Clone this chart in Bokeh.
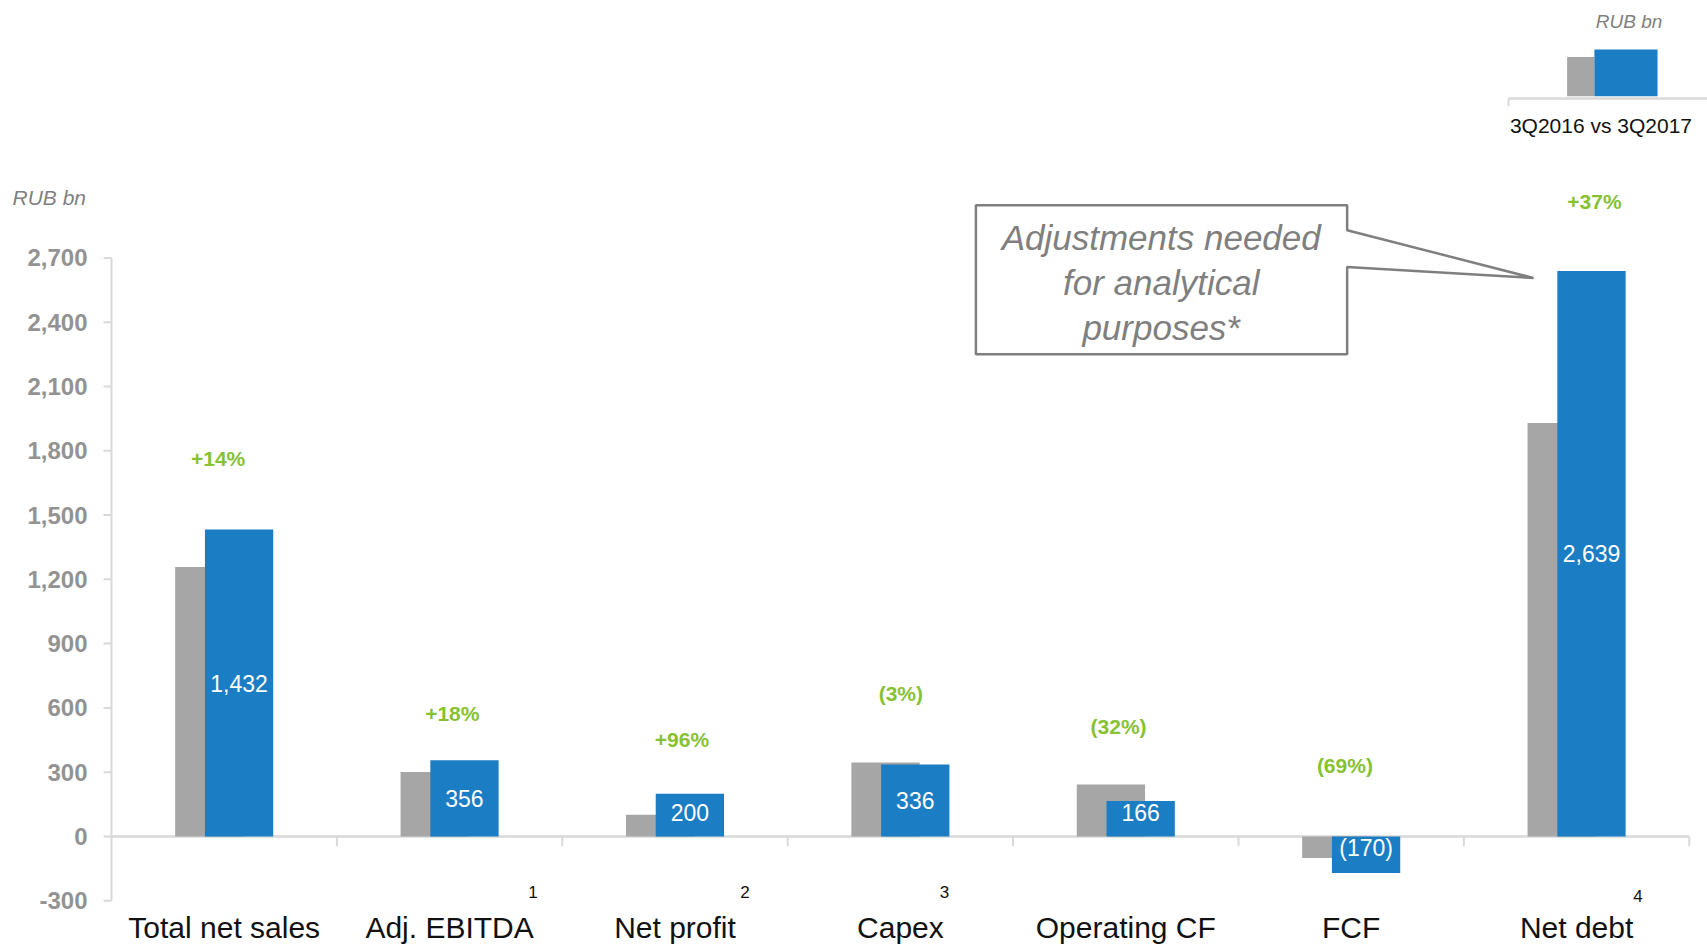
from bokeh.plotting import figure
from bokeh.models import ColumnDataSource
from bokeh.embed import file_html
from bokeh.resources import INLINE
from bokeh.core.properties import value

# ---------------- data ----------------
categories = ["Total net sales", "Adj. EBITDA", "Net profit", "Capex",
              "Operating CF", "FCF", "Net debt"]
footnotes = ["", "1", "2", "3", "", "", "4"]
values_3q2016 = [1258, 301, 101, 345, 243, -100, 1930]
values_3q2017 = [1432, 356, 200, 336, 166, -170, 2639]
changes = ["+14%", "+18%", "+96%", "(3%)", "(32%)", "(69%)", "+37%"]
y_ticks = [-300, 0, 300, 600, 900, 1200, 1500, 1800, 2100, 2400, 2700]
legend_text = "3Q2016 vs 3Q2017"
unit_text = "RUB bn"
callout_lines = ["Adjustments needed", "for analytical", "purposes*"]

# ---------------- styling / layout ----------------
GRAY = "#a6a6a6"
BLUE = "#1b7dc4"
GREEN = "#86c232"
AXIS = "#d9d9d9"
TXT_GRAY = "#7f7f7f"
TICK_GRAY = "#939393"
F = value("Liberation Sans")

W, H = 1707, 944
PX_X = 225.4          # pixels per category
LEFT_PX = 111         # pixel position of the value axis
n = len(categories)
centers = [i + 0.5 for i in range(n)]
bar_w = 0.303
off = 0.066

# per-category label placement (layout, not data)
pct_dx = [-0.027, 0.012, 0.031, 0.002, -0.032, -0.028, 0.079]
pct_y = [1762, 573, 452, 665, 512, 330, 2961]
val_y = [716, 177, 111, 167, 111, -56, 1320]
foot_dx = [0, 0.37, 0.31, 0.195, 0, 0, 0.272]
foot_y = [-259, -259, -259, -259, -259, -259, -280]


def fmt(v):
    return f"{v:,}" if v >= 0 else f"({-v:,})"


x0 = -LEFT_PX / PX_X
p = figure(width=W, height=H, x_range=(x0, x0 + W / PX_X), y_range=(-504, 3901),
           output_backend="svg", toolbar_location=None,
           x_axis_location=None, y_axis_location=None,
           min_border_left=0, min_border_right=0, min_border_top=0,
           min_border_bottom=0)
p.xgrid.visible = False
p.ygrid.visible = False
p.outline_line_color = None
p.background_fill_color = "white"
p.border_fill_color = "white"

# value axis (drawn through the data scales)
lo, hi = y_ticks[0], y_ticks[-1]
p.segment(x0=[0], y0=[lo], x1=[0], y1=[hi], line_color=AXIS, line_width=2)
p.segment(x0=[-8 / PX_X] * len(y_ticks), y0=y_ticks, x1=[0] * len(y_ticks),
          y1=y_ticks, line_color=AXIS, line_width=2)
p.text(x=[-24 / PX_X] * len(y_ticks), y=y_ticks, text=[f"{t:,}" for t in y_ticks],
       text_align="right", text_baseline="middle", text_color=TICK_GRAY,
       text_font=F, text_font_size="24px", text_font_style="bold")
p.text(x=[x0 + 12 / PX_X], y=[2982], text=[unit_text], text_align="left",
       text_baseline="middle", text_color=TXT_GRAY, text_font=F,
       text_font_size="21px", text_font_style="italic")

# zero line with category separators
p.segment(x0=[0], y0=[0], x1=[n], y1=[0], line_color=AXIS, line_width=2.5)
p.segment(x0=list(range(1, n + 1)), y0=[0] * n, x1=list(range(1, n + 1)),
          y1=[-45] * n, line_color=AXIS, line_width=2)

src = ColumnDataSource(dict(
    xg=[c - off for c in centers], xb=[c + off for c in centers],
    prev=values_3q2016, cur=values_3q2017,
))
p.vbar(x="xg", top="prev", bottom=0, width=bar_w, source=src,
       fill_color=GRAY, line_color=None)
p.vbar(x="xb", top="cur", bottom=0, width=bar_w, source=src,
       fill_color=BLUE, line_color=None)

# value labels in blue bars
p.text(x=[c + off for c in centers], y=val_y, text=[fmt(v) for v in values_3q2017],
       text_align="center", text_baseline="middle", text_color="white",
       text_font=F, text_font_size="23px")

# change labels
p.text(x=[c + d for c, d in zip(centers, pct_dx)], y=pct_y, text=changes,
       text_align="center", text_baseline="middle", text_color=GREEN,
       text_font=F, text_font_size="21px", text_font_style="bold")

# category labels
p.text(x=centers, y=[-427] * n, text=categories, text_align="center",
       text_baseline="middle", text_color="#111111", text_font=F,
       text_font_size="30px")

# footnote markers
fx = [c + d for c, d, f in zip(centers, foot_dx, footnotes) if f]
fy = [y for y, f in zip(foot_y, footnotes) if f]
ft = [f for f in footnotes if f]
p.text(x=fx, y=fy, text=ft, text_align="center", text_baseline="middle",
       text_color="#111111", text_font=F, text_font_size="17px")

# callout
cx = [3.835, 5.482, 5.482, 6.309, 5.482, 5.482, 3.835]
cy = [2946, 2946, 2829, 2606, 2657, 2250, 2250]
p.patch(cx, cy, fill_color="white", line_color=TXT_GRAY, line_width=2.5)
p.text(x=[4.657] * 3, y=[2794, 2585, 2377], text=callout_lines,
       text_align="center", text_baseline="middle", text_color=TXT_GRAY,
       text_font=F, text_font_size="35px", text_font_style="italic")

# mini legend (top right)
p.quad(left=[6.458], right=[6.579], bottom=[3454], top=[3637],
       fill_color=GRAY, line_color=None)
p.quad(left=[6.579], right=[6.859], bottom=[3454], top=[3672],
       fill_color=BLUE, line_color=None)
p.segment(x0=[6.198], y0=[3444], x1=[7.2], y1=[3444], line_color=AXIS, line_width=2.5)
p.segment(x0=[6.198], y0=[3444], x1=[6.198], y1=[3408], line_color=AXIS, line_width=2)
p.text(x=[6.608], y=[3317], text=[legend_text], text_align="center",
       text_baseline="middle", text_color="#111111", text_font=F,
       text_font_size="21px")
p.text(x=[6.733], y=[3804], text=[unit_text], text_align="center",
       text_baseline="middle", text_color=TXT_GRAY, text_font=F,
       text_font_size="19px", text_font_style="italic")

open("out.html", "w").write(file_html(p, INLINE))
